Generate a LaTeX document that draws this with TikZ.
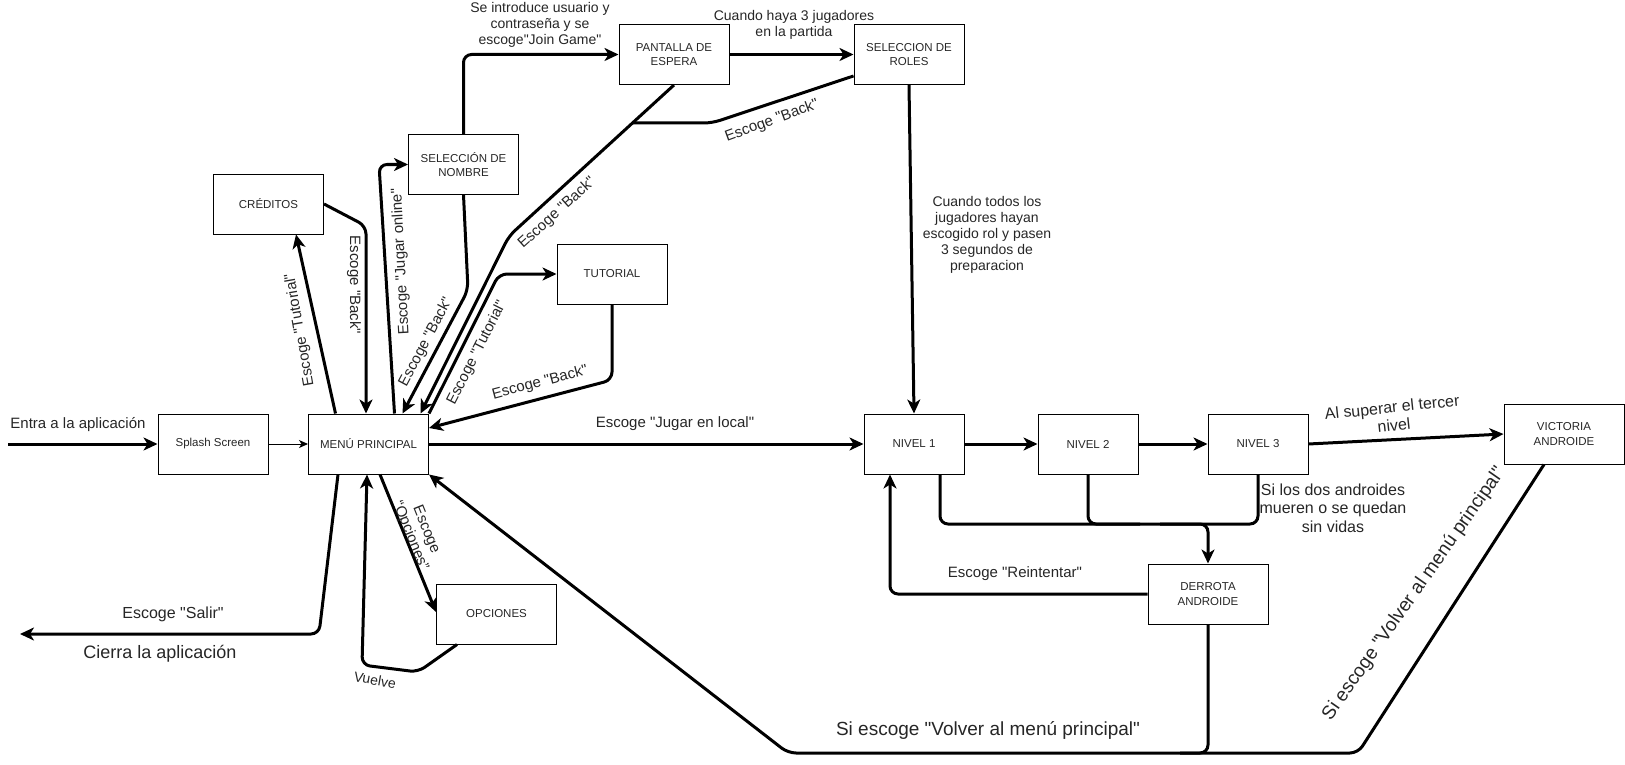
\documentclass[tikz,border=0pt]{standalone}
\usepackage{fontspec}
\setmainfont{Liberation Sans}[Ligatures=TeXOff]
\usetikzlibrary{arrows.meta,calc}
\begin{document}
\begin{tikzpicture}[x=1pt,y=-1pt,
  box/.style={draw=black,line width=1pt,minimum width=110pt,minimum height=60pt,inner sep=2pt,
    font=\fontsize{11.5}{14.5}\selectfont,align=center,text=black!85},
  conn/.style={line width=3pt,rounded corners=8pt,-{Stealth[length=14pt,width=13pt,inset=4pt]}},
  plain/.style={line width=3pt,rounded corners=8pt},
  lbl/.style={font=\fontsize{15}{17}\selectfont,align=center,text=black!85,inner sep=1pt},
  mlbl/.style={font=\fontsize{14}{16}\selectfont,align=center,text=black!85,inner sep=1pt},
  big/.style={font=\fontsize{19}{21}\selectfont,align=center,text=black!85,inner sep=1pt},
]
\useasboundingbox (0,0) rectangle (1625,765);

% nodes
\node[box] (splash) at (213,444) {Splash Screen};
\node[box,minimum width=120pt] (menu) at (368.5,444) {MENÚ PRINCIPAL};
\node[box] (cred) at (268.5,204) {CRÉDITOS};
\node[box] (nombre) at (463.5,164.5) {SELECCIÓN DE\\NOMBRE};
\node[box] (espera) at (674,54.5) {PANTALLA DE\\ESPERA};
\node[box] (roles) at (909,54.5) {SELECCION DE\\ROLES};
\node[box] (tut) at (612,274) {TUTORIAL};
\node[box,minimum width=120pt] (opc) at (496.5,614) {OPCIONES};
\node[box,minimum width=100pt] (n1) at (914,444) {NIVEL 1};
\node[box,minimum width=100pt] (n2) at (1088,444) {NIVEL 2};
\node[box,minimum width=100pt] (n3) at (1258,444) {NIVEL 3};
\node[box,minimum width=120pt] (vic) at (1564,434) {VICTORIA\\ANDROIDE};
\node[box,minimum width=120pt] (der) at (1208,594) {DERROTA\\ANDROIDE};

% entry
\coordinate (entry) at (8,444);
\draw[conn] (entry) -- (splash.west);
\node[lbl] (lentra) at (78,425) {Entra a la aplicación};
\draw[line width=1pt,-{Stealth[length=9pt,width=8pt,inset=2.5pt]}] (splash.east) -- (menu.west);

% creditos
\draw[conn] ([xshift=-33]menu.north) -- ([xshift=27.5]cred.south);
\node[lbl,rotate=100] (ltut1) at (300,330) {Escoge "Tutorial"};
\draw[conn] (cred.east) -- (366,226) -- ([xshift=-2.5]menu.north);
\node[lbl,rotate=-90] (lback1) at (354,285) {Escoge "Back"};

% jugar online
\draw[conn] ([xshift=26]menu.north) -- (379,164.5) -- (nombre.west);
\node[lbl,rotate=93] (lonline) at (401,262) {Escoge "Jugar online"};
\draw[conn] (nombre.south) -- (468,290) -- ([xshift=34]menu.north);
\node[lbl,rotate=62] (lback2) at (426,342) {Escoge "Back"};

% espera
\draw[conn] (nombre.north) -- (463.5,54.5) -- (espera.west);
\node[mlbl] (ljoin) at (540,25) {Se introduce usuario y\\contraseña y se\\escoge"Join Game"};
\draw[conn] (espera.south) -- (509,236) -- ([xshift=52]menu.north);
\node[lbl,rotate=42] (lback3) at (557,213) {Escoge "Back"};

% roles
\draw[conn] (espera.east) -- (roles.west);
\node[mlbl] (lhaya) at (794,24.5) {Cuando haya 3 jugadores\\en la partida};
\coordinate (rmerge) at (632,123);
\draw[plain] ([yshift=-21.5]roles.west) -- (712,123) -- (rmerge);
\node[lbl,rotate=20] (lback4) at (772,121) {Escoge "Back"};
\draw[conn] (roles.south) -- (n1.north);
\node[mlbl] (ltodos) at (987,235) {Cuando todos los\\jugadores hayan\\escogido rol y pasen\\3 segundos de\\preparacion};

% tutorial
\draw[conn] (menu.north east) -- (499,274) -- (tut.west);
\node[lbl,rotate=63] (ltut2) at (477,353) {Escoge "Tutorial"};
\draw[conn] (tut.south) -- (612,380) -- ([yshift=16]menu.east);
\node[lbl,rotate=15] (lback5) at (540,383) {Escoge "Back"};

% jugar en local
\draw[conn] (menu.east) -- (n1.west);
\node[lbl] (llocal) at (675,424) {Escoge "Jugar en local"};
\draw[conn] (n1.east) -- (n2.west);
\draw[conn] (n2.east) -- (n3.west);
\draw[conn] (n3.east) -- (vic.west);
\node[font=\fontsize{16}{18}\selectfont,align=center,text=black!85,inner sep=1pt,rotate=6] (lsuperar) at (1393,416) {Al superar el tercer\\nivel};

% derrota
\draw[plain] ([xshift=26]n1.south) -- (940,524) -- (1258,524) -- (n3.south);
\draw[plain] (n2.south) -- (1088,524) -- (1140,524);
\coordinate (dj) at (1160,524);
\draw[conn] (dj) -- (1208,524) -- (der.north);
\node[font=\fontsize{16}{18.4}\selectfont,align=center,text=black!85,inner sep=1pt] (lmueren) at (1333,508) {Si los dos androides\\mueren o se quedan\\sin vidas};
\draw[conn] (der.west) -- (890,594) -- ([xshift=-24]n1.south);
\node[lbl] (lreint) at (1015,574) {Escoge "Reintentar"};

% volver al menu
\draw[conn] (der.south) -- (1208,753) -- (788,753) -- (menu.south east);
\coordinate (vmerge) at (1180,753);
\draw[plain] ([xshift=-20]vic.south) -- (1358,753) -- (vmerge);
\node[big] (lvolver1) at (988,730) {Si escoge "Volver al menú principal"};
\node[big,rotate=55] (lvolver2) at (1414,594) {Si escoge "Volver al menú principal"};

% salir
\coordinate (exitpt) at (20,634);
\draw[conn] ([xshift=-30.5]menu.south) -- (319,634) -- (exitpt);
\node[font=\fontsize{16}{18}\selectfont,text=black!85,inner sep=1pt] (lsalir) at (173,614) {Escoge "Salir"};
\node[font=\fontsize{18}{20}\selectfont,text=black!85,inner sep=1pt] (lcierra) at (160,654) {Cierra la aplicación};

% opciones
\draw[conn] ([xshift=11.5]menu.south) -- ([yshift=2]opc.west);
\node[font=\fontsize{15}{17}\selectfont,align=center,text=black!85,inner sep=1pt,rotate=-68] (lopc) at (418,533) {Escoge\\“Opciones”};
\draw[conn] ([xshift=-39.5]opc.south) -- (418,672) -- (362,665) -- ([xshift=-1.5]menu.south);
\node[mlbl,rotate=-10] (lvuelve) at (375,680) {Vuelve};
\end{tikzpicture}
\end{document}
